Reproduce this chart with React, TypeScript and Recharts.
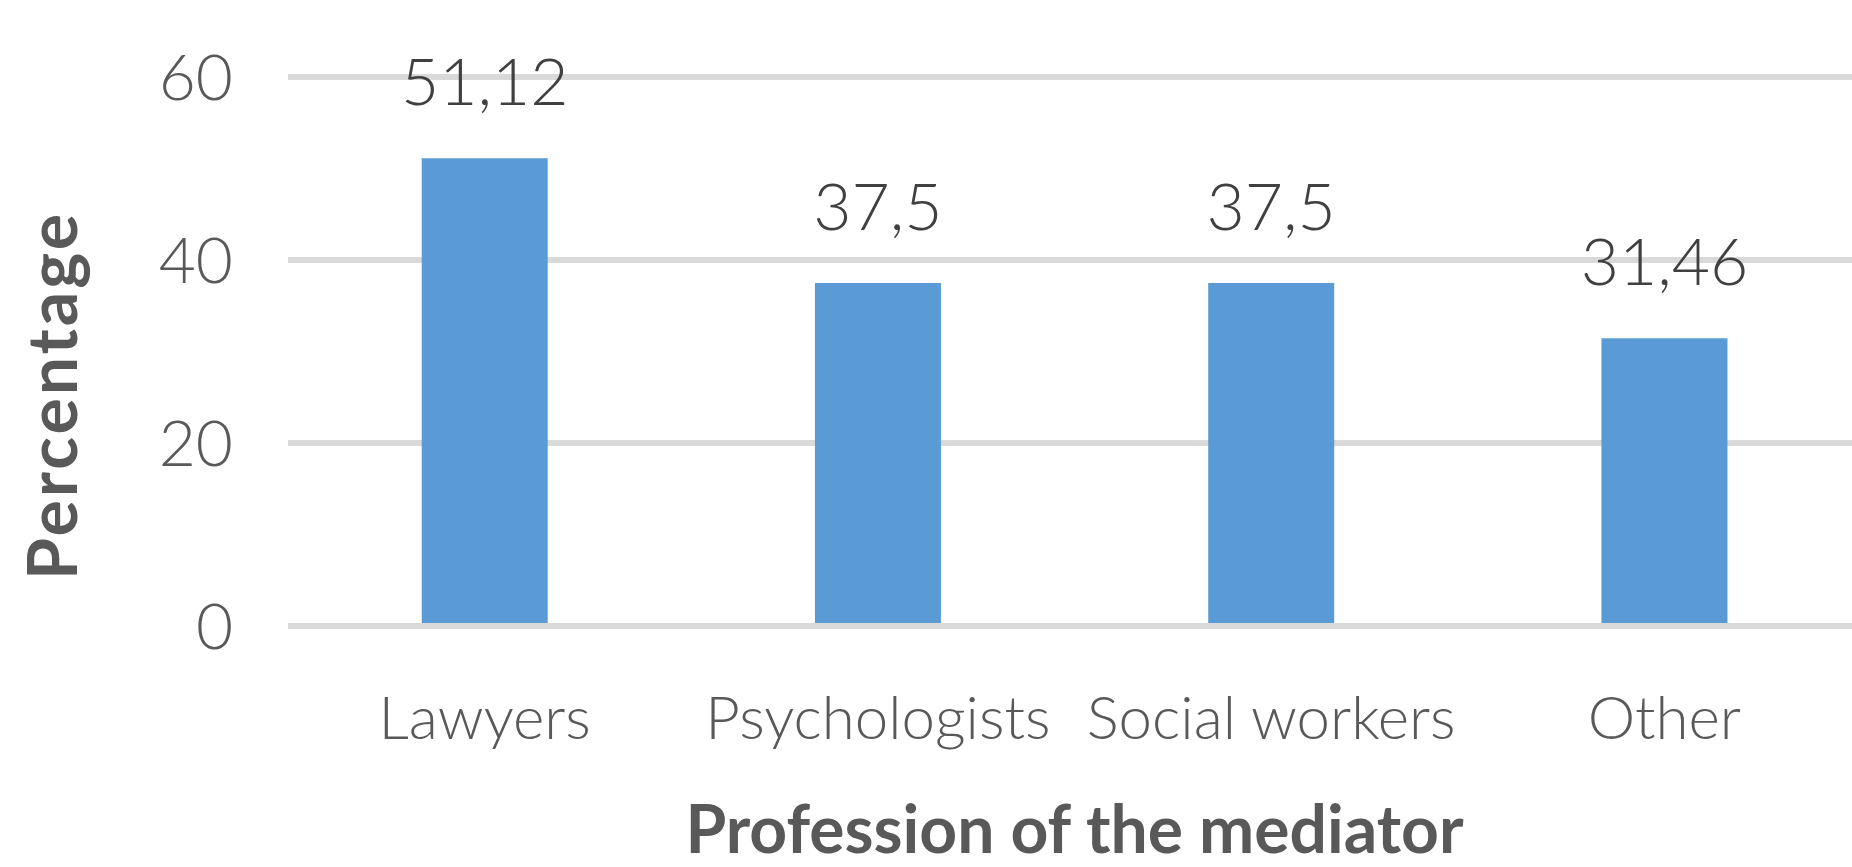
import React from "react";
import { BarChart, Bar, XAxis, YAxis, CartesianGrid, LabelList } from "recharts";

const categories = ["Lawyers", "Psychologists", "Social workers", "Other"];
const percentages = [51.12, 37.5, 37.5, 31.46];
const yTicks = [0, 20, 40, 60];

const data = categories.map((name, i) => ({ name, value: percentages[i] }));

const FONT = "Lato, 'Liberation Sans', sans-serif";

const formatComma = (v: number | string) => String(v).replace(".", ",");

const YTitle = ({ viewBox }: any) => {
  const x = viewBox.x + 77;
  const y = viewBox.y + viewBox.height / 2 + 44;
  return (
    <text
      x={x}
      y={y}
      transform={`rotate(-90, ${x}, ${y})`}
      textAnchor="middle"
      fill="#595959"
      fontFamily={FONT}
      fontWeight="bold"
      fontSize={68}
      letterSpacing={3}
    >
      Percentage
    </text>
  );
};

export default function App() {
  return (
    <div
      style={{
        position: "fixed",
        left: 0,
        top: 0,
        width: 1852,
        height: 867,
        overflow: "hidden",
        background: "#fff",
      }}
    >
      <BarChart
        width={1861}
        height={867}
        data={data}
        margin={{ top: 77, right: 0, bottom: 0, left: 0 }}
        barCategoryGap="34%"
      >
        <CartesianGrid vertical={false} stroke="#d9d9d9" strokeWidth={6} />
        <XAxis
          dataKey="name"
          height={241}
          tickLine={false}
          axisLine={{ stroke: "#d9d9d9", strokeWidth: 6 }}
          tickSize={0}
          tickMargin={70}
          tick={{ fill: "#595959", fontSize: 60, fontFamily: FONT, fontWeight: 300 }}
          interval={0}
          label={{
            value: "Profession of the mediator",
            position: "insideBottom",
            offset: 14,
            fill: "#595959",
            fontSize: 66,
            fontWeight: "bold",
            fontFamily: FONT,
          }}
        />
        <YAxis
          width={288}
          domain={[0, 60]}
          ticks={yTicks}
          tickLine={false}
          axisLine={false}
          tickSize={0}
          tickMargin={55}
          tick={{ fill: "#595959", fontSize: 64, fontFamily: FONT, fontWeight: 300 }}
          label={<YTitle />}
        />
        <Bar dataKey="value" fill="#5b9bd5" isAnimationActive={false}>
          <LabelList
            dataKey="value"
            position="top"
            offset={53}
            formatter={formatComma}
            fill="#404040"
            fontSize={66}
            fontFamily={FONT}
            fontWeight={300}
          />
        </Bar>
      </BarChart>
    </div>
  );
}
